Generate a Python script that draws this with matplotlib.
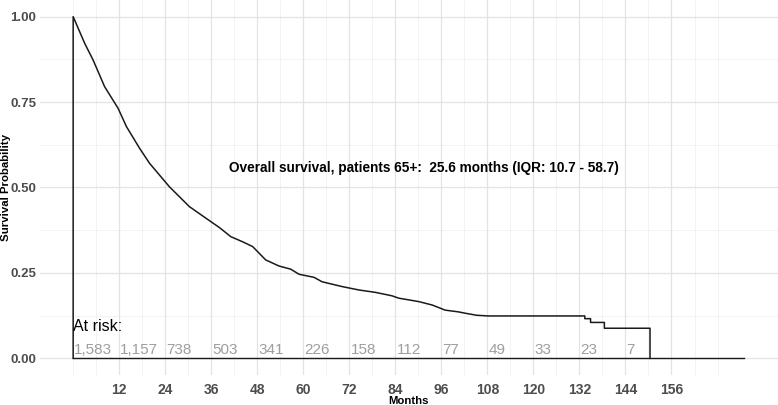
"""Kaplan-Meier overall survival, patients 65+ (ggplot minimal look)."""
import numpy as np
import matplotlib
matplotlib.use("Agg")
import matplotlib.pyplot as plt

plt.rcParams["font.family"] = ["Liberation Sans", "DejaVu Sans"]

# survival curve vertices (months, probability);
# the early part has many tiny steps, so it is traced as a polyline
months = [0, 0, 3.0, 5.2, 8.2, 11.7, 13.9, 17.3, 19.9, 25.1, 30.3, 35.9, 38.1,
          41.1, 44.2, 46.8, 50.2, 53.7, 56.7, 58.9, 62.8, 64.9, 70.1, 74.5,
          78.8, 83.1, 84.9, 90.1, 93.6, 95.2, 97.0, 100.4, 102.2, 105.2,
          108.2, 133.4, 133.4, 134.9, 134.9, 138.5, 138.5, 150.4, 150.4]
surv = [0.0, 1.0, 0.922, 0.873, 0.795, 0.732, 0.678, 0.615, 0.571, 0.502,
        0.444, 0.400, 0.383, 0.356, 0.341, 0.327, 0.288, 0.270, 0.261, 0.246,
        0.237, 0.224, 0.210, 0.200, 0.193, 0.183, 0.176, 0.166, 0.156, 0.149,
        0.141, 0.136, 0.132, 0.126, 0.124, 0.124, 0.116, 0.116, 0.105, 0.105,
        0.088, 0.088, 0.0]
end_month = 174.8

risk_months = [0, 12, 24, 36, 48, 60, 72, 84, 96, 108, 120, 132, 144]
at_risk = [1583, 1157, 738, 503, 341, 226, 158, 112, 77, 49, 33, 23, 7]

x_ticks = list(range(12, 157, 12))
y_ticks = [0.0, 0.25, 0.5, 0.75, 1.0]

fig = plt.figure(figsize=(7.78, 4.05), dpi=100)
ax = fig.add_axes([0.0509, 0.0731, 0.949, 0.928])

# grid like theme_minimal
for m in np.arange(0, 169, 6):
    ax.axvline(m, color="#EFEFEF", lw=0.5, zorder=0)
for v in np.arange(0.125, 1.0, 0.25):
    ax.axhline(v, color="#EFEFEF", lw=0.5, zorder=0)
for m in x_ticks:
    ax.axvline(m, color="#E3E3E3", lw=0.9, zorder=0)
for v in y_ticks:
    ax.axhline(v, color="#E3E3E3", lw=0.9, zorder=0)

ax.plot(months, surv, color="#1a1a1a", lw=1.1, zorder=3)
ax.plot([0, end_month], [0, 0], color="#1a1a1a", lw=1.0, zorder=3)

ax.text(0, 0.092, "At risk:", fontsize=11.5, color="black", ha="left",
        va="center")
for m, n in zip(risk_months, at_risk):
    ax.text(m + 0.3, 0.025, f"{n:,}", fontsize=11, color="#9E9E9E",
            ha="left", va="center")

ax.text(91.5, 0.557,
        "Overall survival, patients 65+:  25.6 months (IQR: 10.7 - 58.7)",
        fontsize=9.8, fontweight="bold", ha="center", va="center")

ax.set_xlim(-8.75, 183.75)
ax.set_ylim(-0.05, 1.05)
ax.set_xticks(x_ticks)
ax.set_yticks(y_ticks)
ax.set_yticklabels([f"{v:.2f}" for v in y_ticks])
ax.tick_params(length=0, labelsize=9.5, labelcolor="#4D4D4D")
ax.tick_params(axis="x", pad=5.5, labelsize=10)
ax.tick_params(axis="y", pad=2.5)
for lab in ax.get_xticklabels() + ax.get_yticklabels():
    lab.set_fontweight("bold")
for s in ax.spines.values():
    s.set_visible(False)

ax.set_xlabel("Months", fontsize=8.2, fontweight="bold", va="center")
ax.set_ylabel("Survival Probability", fontsize=8.2, fontweight="bold",
              va="center")
ax.xaxis.set_label_coords(0.5, -0.069)
ax.yaxis.set_label_coords(-0.0455, 0.5)

fig.savefig("out.png", dpi=100)
